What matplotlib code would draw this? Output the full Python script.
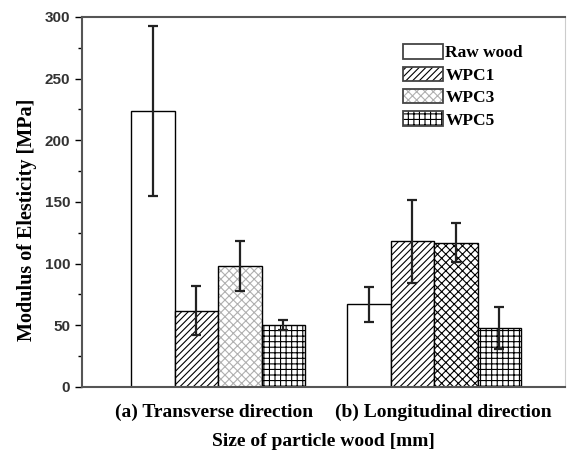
import numpy as np
import matplotlib
matplotlib.use("Agg")
import matplotlib.pyplot as plt
from matplotlib.patches import Patch

# data
groups = ["(a) Transverse direction", "(b) Longitudinal direction"]
series = ["Raw wood", "WPC1", "WPC3", "WPC5"]
raw_wood = [224, 67]
raw_wood_err = [69, 14]
wpc1 = [62, 118]
wpc1_err = [20, 34]
wpc3 = [98, 117]
wpc3_err = [20, 16]
wpc5 = [50, 48]
wpc5_err = [4, 17]

values = [raw_wood, wpc1, wpc3, wpc5]
errors = [raw_wood_err, wpc1_err, wpc3_err, wpc5_err]
hatches = ["", "/////", "xxxx", "+++"]
# WPC3 hatch is light grey in group (a), dark in group (b)
hatch_cols = [["black", "black"], ["black", "black"], ["#b0b0b0", "black"], ["black", "black"]]

serif = "Liberation Serif"
sans = "Liberation Sans"
plt.rcParams["hatch.linewidth"] = 0.8

fig = plt.figure(figsize=(5.67, 4.53), dpi=100)
ax = fig.add_axes([0.1446, 0.1457, 0.8519, 0.8168])

x = np.arange(len(groups))
w = 0.2014
for i, name in enumerate(series):
    pos = x + (i - 1.5) * w
    for j in range(len(groups)):
        # hatch layer then black outline on top
        ax.bar(pos[j], values[i][j], w, color="white", edgecolor=hatch_cols[i][j],
               hatch=hatches[i], linewidth=0)
        ax.bar(pos[j], values[i][j], w, color="none", edgecolor="black", linewidth=1.0)
    ax.errorbar(pos, values[i], yerr=errors[i], fmt="none", ecolor="#222222",
                elinewidth=1.6, capsize=3.5, capthick=1.6)

# legend handles: hatch layer + dark outline overlaid
leg_cols = ["black", "black", "#b0b0b0", "black"]
handles = [(Patch(facecolor="white", edgecolor=leg_cols[i], hatch=hatches[i], linewidth=0),
            Patch(facecolor="none", edgecolor="#444444", linewidth=1.3))
           for i in range(len(series))]
leg = ax.legend(handles, series, loc="upper left", bbox_to_anchor=(0.65, 0.945),
                frameon=False, prop={"family": serif, "weight": "bold", "size": 12.5},
                handlelength=2.3, handleheight=0.9, handletextpad=0.15, labelspacing=0.3,
                borderaxespad=0)

ax.set_xlim(-0.63, 1.606)
ax.set_ylim(0, 300)
# labels sit a little off the group centres in the original
ax.set_xticks(x + np.array([-0.02, 0.042]))
ax.set_xticklabels(groups, fontfamily=serif, fontweight="bold", fontsize=14)
ax.tick_params(axis="x", length=0, pad=12)
ax.set_yticks(np.arange(0, 301, 50))
ax.set_yticks(np.arange(25, 300, 50), minor=True)
ax.tick_params(axis="y", which="major", length=5, width=1, direction="out", labelsize=11)
ax.tick_params(axis="y", which="minor", length=3, width=1, direction="out")
for lab in ax.get_yticklabels():
    lab.set_fontfamily(sans)
    lab.set_fontweight("bold")
    lab.set_color("#333333")

ax.set_ylabel("Modulus of Elesticity [MPa]", fontfamily=serif, fontweight="bold",
              fontsize=14.5)
ax.yaxis.set_label_coords(-0.094, 0.451)
ax.set_xlabel("Size of particle wood [mm]", fontfamily=serif, fontweight="bold",
              fontsize=14, labelpad=9)

for s in ["left", "bottom", "top"]:
    ax.spines[s].set_color("#555555")
    ax.spines[s].set_linewidth(1.5)
ax.spines["right"].set_color("#cccccc")

fig.savefig("out.png", dpi=100)
